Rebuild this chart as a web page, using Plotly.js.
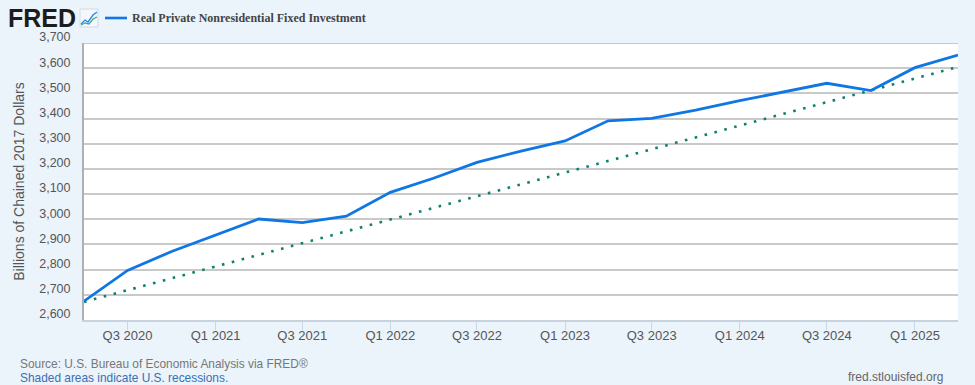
<!DOCTYPE html>
<html>
<head>
<meta charset="utf-8">
<script src="https://cdn.plot.ly/plotly-3.0.1.min.js"></script>
<style>html,body{margin:0;padding:0;background:#ebf3fb;overflow:hidden}</style>
</head>
<body>
<div id="chart" style="width:975px;height:385px"></div>
<script>
const quarters = ["2020-04-01","2020-07-01","2020-10-01","2021-01-01","2021-04-01","2021-07-01","2021-10-01","2022-01-01","2022-04-01","2022-07-01","2022-10-01","2023-01-01","2023-04-01","2023-07-01","2023-10-01","2024-01-01","2024-04-01","2024-07-01","2024-10-01","2025-01-01","2025-04-01"];
const investment = [2675,2797,2872,2937,3001,2987,3012,3107,3163,3226,3271,3311,3391,3401,3433,3471,3505,3540,3511,3602,3652];
const trendDates = ["2020-04-01","2025-04-01"];
const trendValues = [2672,3605];
const xTickDates = ["2020-07-01","2021-01-01","2021-07-01","2022-01-01","2022-07-01","2023-01-01","2023-07-01","2024-01-01","2024-07-01","2025-01-01"];
const xTickLabels = ["Q3 2020","Q1 2021","Q3 2021","Q1 2022","Q3 2022","Q1 2023","Q3 2023","Q1 2024","Q3 2024","Q1 2025"];
const yTicks = [2600,2700,2800,2900,3000,3100,3200,3300,3400,3500,3600,3700];
const seriesName = "Real Private Nonresidential Fixed Investment";

const W = 975, H = 385, L = 84, R = 17, T = 43, B = 65;
const px = x => (x - L) / (W - L - R);
const py = y => (H - B - y) / (H - T - B);
const sans = "Liberation Sans, Arial, sans-serif";

function box(x0, y0, x1, y1, fill, line) {
  return {type:"rect", xref:"paper", yref:"paper", x0:px(x0), x1:px(x1), y0:py(y1), y1:py(y0),
          fillcolor:fill, line:{color:line, width:1}, layer:"above"};
}
function poly(points, color, width) {
  const d = points.map((p,i)=>(i?"L":"M")+px(p[0])+","+py(p[1])).join(" ");
  return {type:"path", xref:"paper", yref:"paper", path:d, line:{color:color, width:width}, layer:"above"};
}

const traces = [
  {x:trendDates, y:trendValues, mode:"lines", name:"Trend", showlegend:false, hoverinfo:"skip",
   line:{color:"#0f8070", width:2.6, dash:"2.6px,7.6px"}},
  {x:quarters, y:investment, mode:"lines", name:seriesName, showlegend:false,
   line:{color:"#0f77e3", width:2.8}}
];

const layout = {
  width:W, height:H,
  margin:{l:L, r:R, t:T, b:B, pad:0},
  paper_bgcolor:"#ebf3fb", plot_bgcolor:"#ffffff",
  font:{family:sans, color:"#555555"},
  showlegend:false,
  xaxis:{type:"date", range:["2020-04-01","2025-04-01"], tickmode:"array", tickvals:xTickDates, ticktext:xTickLabels,
         showgrid:false, ticks:"outside", ticklen:8, tickcolor:"#c8d6e6", tickwidth:1,
         showline:true, linecolor:"#c8d3df", linewidth:2, zeroline:false,
         ticklabelstandoff:-6,
         tickfont:{size:13, color:"#555555", family:sans}},
  yaxis:{range:[2600,3700], tickmode:"array", tickvals:yTicks, ticktext:yTicks.map(v=>v.toLocaleString("en-US")),
         showgrid:true, gridcolor:"#c9c9c9", gridwidth:2, ticks:"", zeroline:false,
         showline:true, linecolor:"#b0b0b0", linewidth:2,
         ticklabelshift:-6, ticklabelstandoff:9,
         tickfont:{size:12.5, color:"#555555", family:sans},
         title:{text:"Billions of Chained 2017 Dollars", standoff:11, font:{size:14, color:"#555555", family:sans}}},
  annotations:[
    {xref:"paper", yref:"paper", x:px(6), y:py(18), xanchor:"left", yanchor:"middle", showarrow:false, height:22,
     text:"<b>FRED</b>", font:{family:sans, size:25, color:"#1c1c1c"}},
    {xref:"paper", yref:"paper", x:px(130), y:py(18), xanchor:"left", yanchor:"middle", showarrow:false,
     text:"<b>"+seriesName+"</b>", font:{family:"Liberation Serif, Times New Roman, serif", size:12, color:"#444444"}},
    {xref:"paper", yref:"paper", x:px(18), y:py(364), xanchor:"left", yanchor:"middle", showarrow:false,
     text:"Source: U.S. Bureau of Economic Analysis via FRED®", font:{size:11.9, color:"#777777", family:sans}},
    {xref:"paper", yref:"paper", x:px(18), y:py(378), xanchor:"left", yanchor:"middle", showarrow:false,
     text:"Shaded areas indicate U.S. recessions.", font:{size:11.9, color:"#3c6eb4", family:sans}},
    {xref:"paper", yref:"paper", x:px(945), y:py(377), xanchor:"right", yanchor:"middle", showarrow:false,
     text:"fred.stlouisfed.org", font:{size:12, color:"#666666", family:sans}}
  ],
  shapes:[
    {type:"line", xref:"paper", yref:"y", x0:0, x1:1, y0:yTicks[yTicks.length-1], y1:yTicks[yTicks.length-1],
     line:{color:"#c9c9c9", width:2}, layer:"above"},
    box(80, 9, 98, 27, "#f4f7fb", "#d5dbe2"),
    poly([[81,24],[85,20],[88,22],[93,15],[97,12]], "#2b87e3", 1.3),
    poly([[81,25],[85,23],[89,24],[93,19],[97,17]], "#42a89a", 1.3),
    poly([[105,18],[127,18]], "#0f77e3", 2.6)
  ]
};

Plotly.newPlot("chart", traces, layout, {displayModeBar:false, staticPlot:true});
</script>
</body>
</html>
